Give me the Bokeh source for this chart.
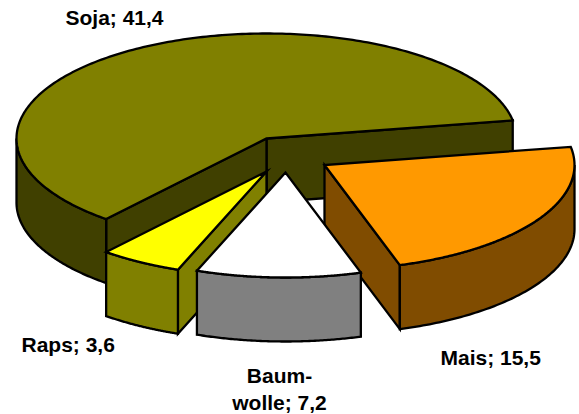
import numpy as np
from bokeh.plotting import figure
from bokeh.embed import file_html
from bokeh.resources import INLINE
from bokeh.core.properties import value

# --- data ---
crops = ["Soja", "Raps", "Baumwolle", "Mais"]
values = [41.4, 3.6, 7.2, 15.5]
top_colors = ["#808000", "#FFFF00", "#FFFFFF", "#FF9900"]
side_colors = ["#404000", "#808000", "#808080", "#804C00"]
label_lines = [["Soja; 41,4"], ["Raps; 3,6"], ["Baum-", "wolle; 7,2"], ["Mais; 15,5"]]

# --- layout ---
W, H = 579, 414
RX, RY, DEPTH = 250, 105, 64
START = 9.96
CENTER = (266, 138)
offsets = [(0, 0), (0, 33), (19, 34), (58, 26.5)]
label_pos = [(65, 25, "left"), (21, 352, "left"), (279, 383, "center"), (440, 365, "left")]
LABEL_SHIFT = -8
LINE_H = 27
draw_order = [0, 1, 3, 2]

p = figure(width=W, height=H, x_range=(0, W), y_range=(H, 0),
           output_backend="svg", toolbar_location=None, min_border=0)
p.axis.visible = False
p.grid.visible = False
p.outline_line_color = None
p.background_fill_color = "#FFFFFF"
p.border_fill_color = "#FFFFFF"


def ell(cx, cy, deg):
    t = np.radians(deg)
    return cx + RX * np.cos(t), cy - RY * np.sin(t)


def poly(xs, ys, color):
    p.patch(list(xs), list(ys), fill_color=color, line_color="black",
            line_width=2.3, line_join="miter")


total = sum(values)
bounds = START + np.cumsum([0] + [v / total * 360 for v in values])

for i in draw_order:
    a0, a1 = bounds[i], bounds[i + 1]
    cx, cy = CENTER[0] + offsets[i][0], CENTER[1] + offsets[i][1]
    # radial walls: only those that hang outside the slice's own top face
    for a, show in ((a0, np.cos(np.radians(a0)) > 0), (a1, np.cos(np.radians(a1)) < 0)):
        if show:
            ex, ey = ell(cx, cy, a)
            poly([cx, ex, ex, cx], [cy, ey, ey + DEPTH, cy + DEPTH], side_colors[i])
    # outer wall: visible only on the front half of the ellipse
    for k in (-360, 0, 360):
        lo, hi = max(a0, 180 + k), min(a1, 360 + k)
        if hi > lo:
            ox, oy = ell(cx, cy, np.linspace(lo, hi, 90))
            poly(np.r_[ox, ox[::-1]], np.r_[oy, oy[::-1] + DEPTH], side_colors[i])
    # top face
    ox, oy = ell(cx, cy, np.linspace(a0, a1, 240))
    poly(np.r_[cx, ox], np.r_[cy, oy], top_colors[i])

for lines, (lx, ly, al) in zip(label_lines, label_pos):
    for n, line in enumerate(lines):
        p.text([lx], [ly + LABEL_SHIFT + n * LINE_H], text=[line], text_align=al,
               text_baseline="alphabetic", text_color="black",
               text_font=value("Liberation Sans"), text_font_style="bold",
               text_font_size="21px")

open("out.html", "w").write(file_html(p, INLINE))
